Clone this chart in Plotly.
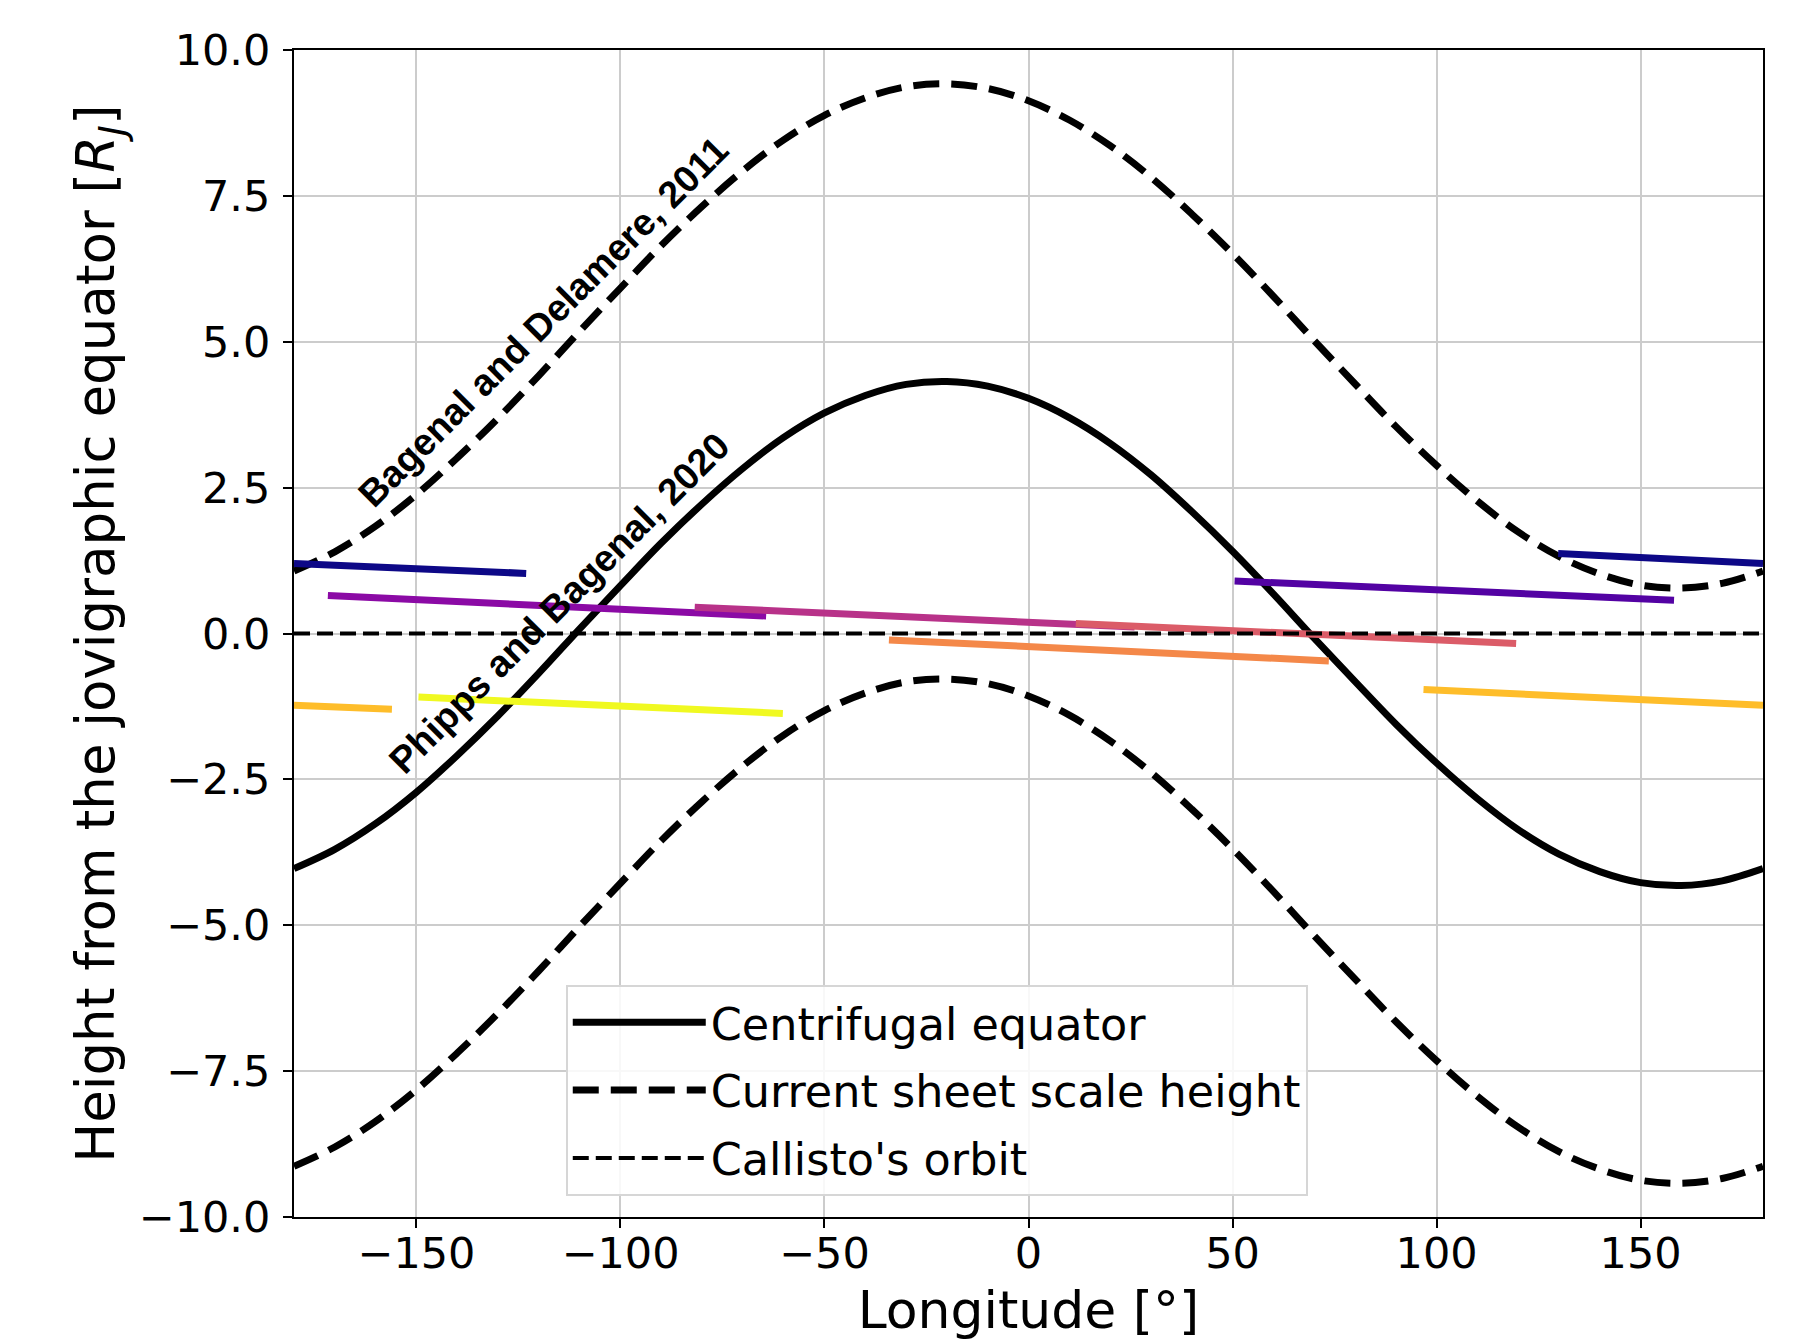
import plotly.graph_objects as go

# ---------------- data ----------------
longitude = [-180, -170, -160, -150, -140, -130, -120, -110, -100, -90, -80, -70,
             -60, -50, -40, -30, -20, -10, 0, 10, 20, 30, 40, 50, 60, 70, 80, 90,
             100, 110, 120, 130, 140, 150, 160, 170, 180]

centrifugal_eq = [-4.03, -3.70, -3.26, -2.72, -2.09, -1.41, -0.68, 0.08, 0.82, 1.55,
                  2.22, 2.83, 3.36, 3.78, 4.08, 4.27, 4.32, 4.24, 4.03, 3.70, 3.26,
                  2.72, 2.09, 1.41, 0.68, -0.08, -0.82, -1.55, -2.22, -2.83, -3.36,
                  -3.78, -4.08, -4.27, -4.32, -4.24, -4.03]

sheet_upper = [1.07, 1.40, 1.84, 2.38, 3.01, 3.69, 4.42, 5.18, 5.92, 6.65, 7.32, 7.93,
               8.46, 8.88, 9.18, 9.37, 9.42, 9.34, 9.13, 8.80, 8.36, 7.82, 7.19, 6.51,
               5.78, 5.02, 4.28, 3.55, 2.88, 2.27, 1.74, 1.32, 1.02, 0.83, 0.78, 0.86,
               1.07]

sheet_lower = [-9.13, -8.80, -8.36, -7.82, -7.19, -6.51, -5.78, -5.02, -4.28, -3.55,
               -2.88, -2.27, -1.74, -1.32, -1.02, -0.83, -0.78, -0.86, -1.07, -1.40,
               -1.84, -2.38, -3.01, -3.69, -4.42, -5.18, -5.92, -6.65, -7.32, -7.93,
               -8.46, -8.88, -9.18, -9.37, -9.42, -9.34, -9.13]

callisto_lon = [-180, 180]
callisto_h = [0.0, 0.0]

# Callisto track segments (longitude start/end, height start/end), plasma colours
seg_lon = [[129.8, 180.0], [-180.0, -123.1],
           [50.5, 158.2],
           [-171.7, -64.3],
           [-81.8, 26.0],
           [11.6, 119.5],
           [-34.2, 73.6],
           [96.8, 180.0], [-180.0, -156.0],
           [-149.5, -60.2]]
seg_h = [[1.37, 1.20], [1.20, 1.03],
         [0.90, 0.57],
         [0.65, 0.30],
         [0.45, 0.11],
         [0.17, -0.17],
         [-0.11, -0.47],
         [-0.96, -1.23], [-1.23, -1.30],
         [-1.09, -1.37]]
seg_color = ["#0d0887", "#0d0887",
             "#5302a3",
             "#8b0aa5",
             "#b83289",
             "#db5c68",
             "#f48849",
             "#febd2a", "#febd2a",
             "#f0f921"]

x_ticks = [-150, -100, -50, 0, 50, 100, 150]
y_ticks = [-10.0, -7.5, -5.0, -2.5, 0.0, 2.5, 5.0, 7.5, 10.0]

label_text = ["Bagenal and Delamere, 2011", "Phipps and Bagenal, 2020"]
label_x = [-119.0, -115.0]
label_y = [5.34, 0.52]

# ---------------- figure ----------------
FONT = "DejaVu Sans"
fig = go.Figure()

fig.add_trace(go.Scatter(x=longitude, y=centrifugal_eq, mode="lines",
                         line=dict(color="black", width=7, shape="spline"),
                         name="Centrifugal equator", legendgroup="a"))
fig.add_trace(go.Scatter(x=longitude, y=sheet_upper, mode="lines",
                         line=dict(color="black", width=7, shape="spline", dash="26px,12px"),
                         name="Current sheet scale height", legendgroup="b"))
fig.add_trace(go.Scatter(x=longitude, y=sheet_lower, mode="lines",
                         line=dict(color="black", width=7, shape="spline", dash="26px,12px"),
                         name="Current sheet scale height", showlegend=False, legendgroup="b"))

for xs, ys, c in zip(seg_lon, seg_h, seg_color):
    fig.add_trace(go.Scatter(x=xs, y=ys, mode="lines",
                             line=dict(color=c, width=7), showlegend=False,
                             hoverinfo="skip"))

fig.add_trace(go.Scatter(x=callisto_lon, y=callisto_h, mode="lines",
                         line=dict(color="black", width=4, dash="16px,7px"),
                         name="Callisto's orbit", legendgroup="c"))

for t, x, y in zip(label_text, label_x, label_y):
    fig.add_annotation(x=x, y=y, text=t, showarrow=False, textangle=-45,
                       font=dict(family="Liberation Sans, Arial", size=37.5,
                                 color="black", weight="bold"))

fig.update_layout(
    width=1809, height=1340,
    margin=dict(l=294, r=46, t=50, b=123, autoexpand=False),
    paper_bgcolor="white", plot_bgcolor="white",
    font=dict(family=FONT, color="black", size=43),
    showlegend=True,
    legend=dict(x=0.185, y=0.199, xanchor="left", yanchor="top",
                bgcolor="rgba(255,255,255,0.85)", bordercolor="#d6d6d6",
                borderwidth=2, font=dict(family=FONT, size=44.5),
                tracegroupgap=7, itemwidth=133),
)

fig.update_xaxes(range=[-180, 180], tickvals=x_ticks,
                 ticktext=[str(v).replace("-", "\u2212") for v in x_ticks],
                 ticks="outside", ticklen=9, tickwidth=2, tickcolor="black",
                 showline=True, linecolor="black", linewidth=2, mirror=True,
                 showgrid=True, gridcolor="#cccccc", gridwidth=1.5, zeroline=False,
                 tickfont=dict(size=43), ticklabelstandoff=-12,
                 title=dict(text="Longitude [°]", font=dict(size=52), standoff=30))
fig.update_yaxes(range=[-10, 10], tickvals=y_ticks,
                 ticktext=[f"{v:.1f}".replace("-", "\u2212") for v in y_ticks],
                 ticks="outside", ticklen=9, tickwidth=2, tickcolor="black",
                 showline=True, linecolor="black", linewidth=2, mirror=True,
                 showgrid=True, gridcolor="#cccccc", gridwidth=1.5, zeroline=False,
                 tickfont=dict(size=43), ticklabelstandoff=4,
                 title=dict(text="Height from the jovigraphic equator [<i>R</i><sub><i>J</i></sub>]",
                            font=dict(size=53), standoff=7))

fig.write_html("out.html", config={"displayModeBar": False},
               post_script="document.body.style.margin='0';document.body.style.overflow='hidden';")
